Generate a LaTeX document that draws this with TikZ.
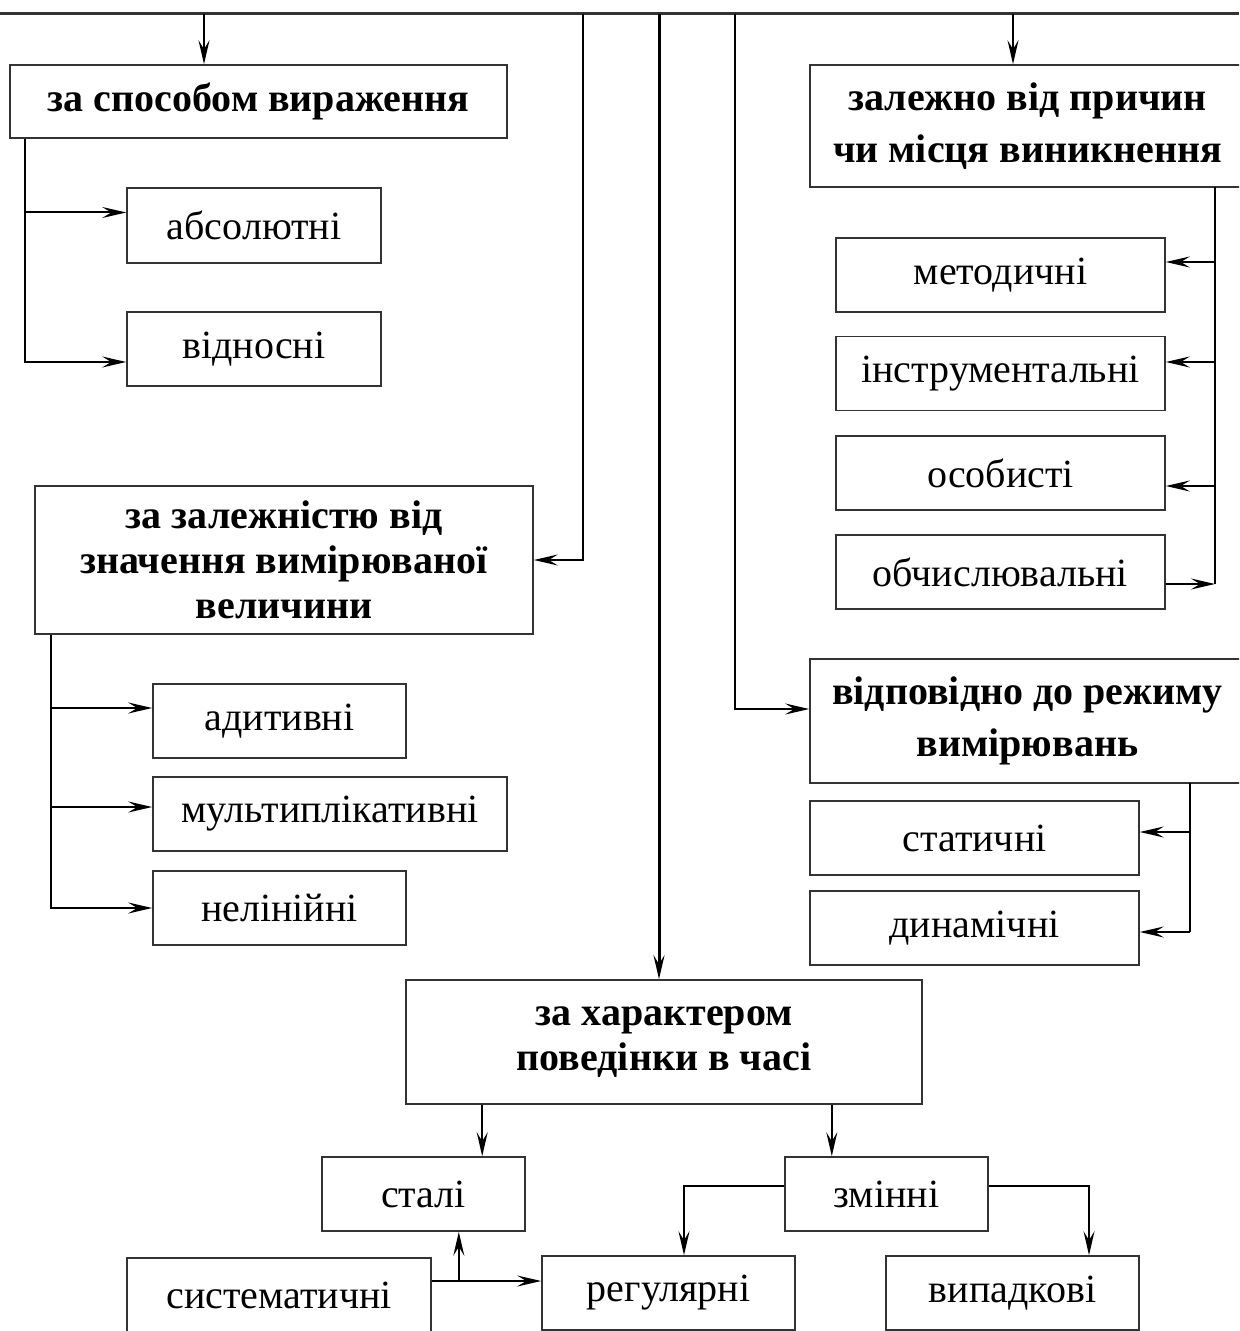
\documentclass[tikz,border=0pt]{standalone}
\usepackage{fontspec}
\setmainfont{Liberation Serif}
\usetikzlibrary{arrows.meta,positioning,calc}

\begin{document}
\begin{tikzpicture}[x=0.5pt,y=-0.5pt,
    cv/.style={rectangle, draw=black!80, line width=0.8pt, inner sep=0pt, font=\fontsize{20}{22.5}\selectfont},
    title/.style={cv, font=\fontsize{20}{22.5}\selectfont\bfseries, align=center},
    sz/.style 2 args={minimum width=#1*0.5pt, minimum height=#2*0.5pt},
    arr/.style={-{Stealth[length=12pt,width=5.5pt,inset=4.5pt]}, line width=1pt},
    link/.style={line width=0.8pt}
]

\useasboundingbox (0,0) rectangle (1239,1331);
\clip (0,0) rectangle (1239,1331);

% top line with branches
\coordinate (tl) at (0,14);
\coordinate (tr) at (1239,14);
\draw[line width=1.5pt, black!80] (tl) -- (tr);
\coordinate (t1) at (204,14);
\coordinate (t2) at (583,14);
\coordinate (t3) at (659,14);
\coordinate (t4) at (735,14);
\coordinate (t5) at (1013,14);

% za sposobom
\node (spos) at (258.5,101.5) [title, sz={497}{73}] {за способом вираження};
\node (abs)  at (254,225.5) [cv, sz={254}{75}] {абсолютні};
\node (vidn) at (254,349)   [cv, sz={254}{74}] {відносні};

% za zalezhnistyu
\node (zal)   at (284,560)   [title, sz={498}{148}] {за залежністю від\\значення вимірюваної\\величини};
\node (adyt)  at (279.5,721) [cv, sz={253}{74}] {адитивні};
\node (mult)  at (330,814)   [cv, sz={354}{74}] {мультиплікативні};
\node (nelin) at (279.5,908) [cv, sz={253}{74}] {нелінійні};

% zalezhno vid prychyn
\node (prych) at (1027.5,126) [title, sz={435}{122}] {залежно від причин\\[3.5pt]чи місця виникнення};
\node (metod) at (1000.5,275)   [cv, sz={329}{74}] {методичні};
\node (instr) at (1000.5,373.5) [cv, sz={329}{74}] {інструментальні};
\node (osob)  at (1000.5,473)   [cv, sz={329}{74}] {особисті};
\node (obch)  at (1000.5,572)   [cv, sz={329}{74}] {обчислювальні};

% vidpovidno do rezhymu
\node (rezh) at (1027.5,721) [title, sz={435}{124}] {відповідно до режиму\\[3.5pt]вимірювань};
\node (stat) at (974.5,838)  [cv, sz={329}{74}] {статичні};
\node (dyn)  at (974.5,928)  [cv, sz={329}{74}] {динамічні};

% za kharakterom
\node (khar)   at (664,1042)    [title, sz={516}{124}] {за характером\\поведінки в часі};
\node (stali)  at (423.5,1194)  [cv, sz={203}{74}] {сталі};
\node (zminni) at (886.5,1194)  [cv, sz={203}{74}] {змінні};
\node (syst)   at (279,1295)    [cv, sz={304}{74}] {систематичні};
\node (regul)  at (668.5,1293)  [cv, sz={253}{74}] {регулярні};
\node (vypad)  at (1012.5,1293) [cv, sz={253}{74}] {випадкові};

% connectors from the top line
\draw[arr] (t1) -- (t1 |- spos.north);
\draw[arr, line width=0.8pt] (t2) |- (zal.east);
\draw[arr, line width=1.5pt] (t3) -- (t3 |- khar.north);
\draw[arr, line width=0.8pt] (t4) |- ([yshift=6pt]rezh.west);
\draw[arr] (t5) -- (t5 |- prych.north);

% left branches
\coordinate (s1) at ([xshift=8pt]spos.south west);
\draw[arr] (s1) |- ([yshift=6.5pt]abs.west);
\draw[arr] (s1) |- ([yshift=-6.5pt]vidn.west);

\coordinate (z1) at ([xshift=8.5pt]zal.south west);
\draw[arr] (z1) |- ([yshift=6.5pt]adyt.west);
\draw[arr] (z1) |- ([yshift=3.5pt]mult.west);
\draw[arr] (z1) |- (nelin.west);

% right branches
\coordinate (p1) at (1215,187);
\draw[link] (p1) -- ([yshift=-6pt]obch.east -| p1);
\draw[arr] ([yshift=6.5pt]metod.east -| p1) -- ([yshift=6.5pt]metod.east);
\draw[arr] ([yshift=5.75pt]instr.east -| p1) -- ([yshift=5.75pt]instr.east);
\draw[arr] ([yshift=-6.5pt]osob.east -| p1) -- ([yshift=-6.5pt]osob.east);
\draw[arr] ([yshift=-6pt]obch.east) -- ([yshift=-6pt]obch.east -| p1);

\coordinate (r1) at (1190,783);
\draw[link] (r1) -- ([yshift=-2pt]dyn.east -| r1);
\draw[arr] ([yshift=3pt]stat.east -| r1) -- ([yshift=3pt]stat.east);
\draw[arr] ([yshift=-2pt]dyn.east -| r1) -- ([yshift=-2pt]dyn.east);

% bottom branches
\coordinate (k1) at ([xshift=38.5pt]khar.south west);
\coordinate (k2) at ([xshift=-45.5pt]khar.south east);
\draw[arr] (k1) -- (k1 |- stali.north);
\draw[arr] (k2) -- (k2 |- zminni.north);

\draw[arr] ([yshift=4pt]zminni.west) -| ([xshift=7.75pt]regul.north);
\draw[arr] ([yshift=4pt]zminni.east) -| ([xshift=38.25pt]vypad.north);

\coordinate (sj) at ([xshift=13.5pt,yshift=7pt]syst.east);
\draw[arr] ([yshift=7pt]syst.east) -- ([yshift=7pt]syst.east -| regul.west);
\draw[arr] (sj) -- (sj |- stali.south);

\end{tikzpicture}
\end{document}
